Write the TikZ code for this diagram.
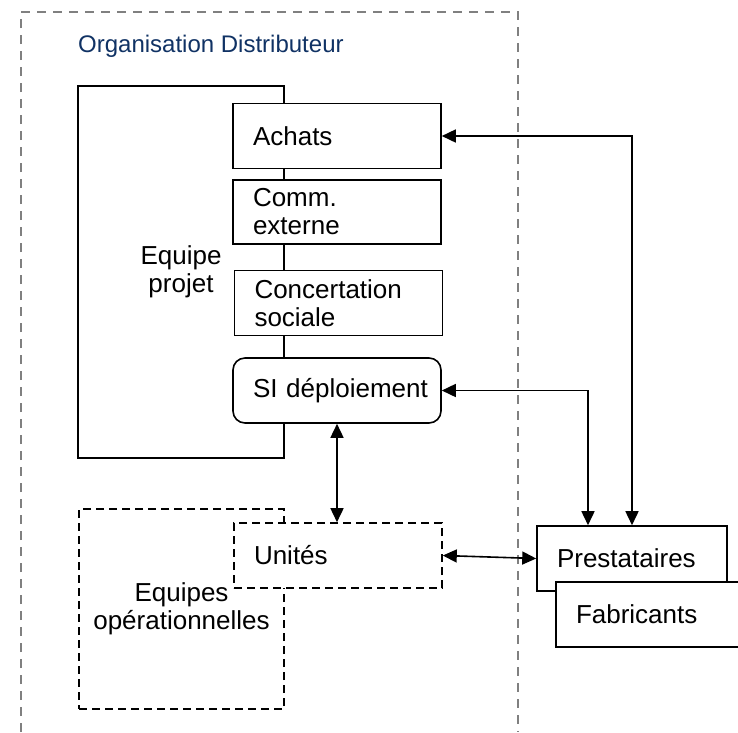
\documentclass[tikz,border=0pt]{standalone}
\usepackage{fontspec}
\setmainfont{Liberation Sans}
\usetikzlibrary{arrows.meta}
\definecolor{navyblue}{RGB}{16, 50, 100}
\definecolor{framegray}{RGB}{128, 128, 128}

\begin{document}
\begin{tikzpicture}[
        x=1pt, y=-1pt,
        every node/.style={font=\fontsize{26}{28}\selectfont},
        box/.style={draw, line width=1.6pt, fill=white,
            minimum height=65pt, text width=168pt, inner xsep=20pt,
            align=left},
        group/.style={draw, line width=1.6pt, fill=white, align=center},
        dashbox/.style={dash pattern=on 8pt off 5pt},
        link/.style={line width=1.6pt,
            {Triangle[length=14pt,width=13pt]}-{Triangle[length=14pt,width=13pt]}}
    ]
    \useasboundingbox (0,0) rectangle (738,732);

    % cadre distributeur
    \draw[framegray, line width=1.3pt, dash pattern=on 9pt off 7pt]
        (21,732) -- (21,12) -- (518,12) -- (518,732);
    \node[anchor=base west, text=navyblue, font=\fontsize{24}{26}\selectfont,
        inner sep=0pt] (titre) at (78,52) {Organisation Distributeur};

    % equipe projet
    \node[group, minimum width=206pt, minimum height=372pt] (equipe)
        at (181,272) {Equipe\\projet};
    \node[box] (achats) at (337,136) {Achats};
    \node[box, minimum height=64pt] (comm) at (337,212) {Comm.\\externe};
    \node[box] (concert) at (338.5,303) {Concertation\\sociale};
    \node[box, rounded corners=12pt] (si) at (337,390.5) {\mbox{SI déploiement}};

    % equipes operationnelles
    \node[group, dashbox, minimum width=205pt, minimum height=200pt] (eqop)
        at (181.5,609) {Equipes\\opérationnelles};
    \node[box, dashbox] (unites) at (338,555.5) {Unités};

    % partenaires
    \node[box, text width=150pt] (prest) at (632,558.5) {Prestataires};
    \node[box, text width=170pt] (fabr) at (661,614.5) {Fabricants};

    % liens
    \draw[link] (achats.east) -| (prest.north);
    \draw[link] (si.east) -| ([xshift=-44pt]prest.north);
    \draw[link] (si.south) -- (si.south |- unites.north);
    \draw[link] (unites.east) -- (prest.west);
\end{tikzpicture}
\end{document}
